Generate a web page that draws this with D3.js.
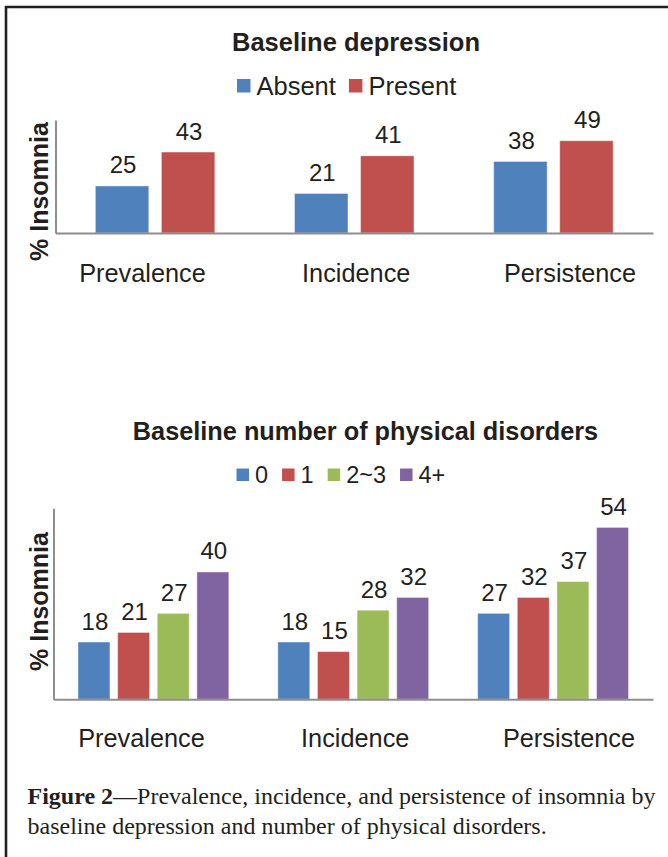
<!DOCTYPE html>
<html>
<head>
<meta charset="utf-8">
<script src="https://cdn.jsdelivr.net/npm/d3@7/dist/d3.min.js"></script>
<style>
  html, body { margin: 0; padding: 0; background: #fff; }
  svg { display: block; }
  .sans { font-family: Arial, "Liberation Sans", Helvetica, sans-serif; }
</style>
</head>
<body>
<svg id="fig" width="668" height="857"></svg>
<script>
// Outcome categories shared by both panels
const categories = ["Prevalence", "Incidence", "Persistence"];

// Panel A: baseline depression
const depressionGroups = ["Absent", "Present"];
const depressionAbsent = [25, 21, 38];
const depressionPresent = [43, 41, 49];

// Panel B: baseline number of physical disorders
const disorderGroups = ["0", "1", "2~3", "4+"];
const disorders0 = [18, 18, 27];
const disorders1 = [21, 15, 32];
const disorders23 = [27, 28, 37];
const disorders4plus = [40, 32, 54];

const yDomain = [0, 60];

const palette = ["#4F81BD", "#C0504D", "#9BBB59", "#8064A2"];
const ink = "#231f20";
const axisGrey = "#8e8e8e";

const svg = d3.select("#fig");

// Frame lines along the top and left edges
svg.append("line").attr("x1", 5).attr("x2", 668).attr("y1", 7).attr("y2", 7)
  .attr("stroke", ink).attr("stroke-width", 2.6);
svg.append("line").attr("x1", 6).attr("x2", 6).attr("y1", 6).attr("y2", 857)
  .attr("stroke", ink).attr("stroke-width", 2.6);

function drawPanel(cfg) {
  const g = svg.append("g").attr("class", "sans");
  const rows = cfg.groups.map((grp, i) => ({ grp, values: cfg.series[i] }));
  const data = categories.map((c, ci) => ({
    cat: c,
    bars: rows.map((r, si) => ({ grp: r.grp, si, v: r.values[ci] }))
  }));

  const x0 = d3.scaleBand().domain(categories).range([cfg.left, cfg.right])
    .paddingInner(cfg.padInner).paddingOuter(cfg.padOuter);
  const x1 = d3.scaleBand().domain(cfg.groups).range([0, x0.bandwidth()])
    .paddingInner(cfg.barGap).paddingOuter(0);
  const y = d3.scaleLinear().domain(yDomain).range([cfg.bottom, cfg.top]);
  const xLabel = d3.scalePoint().domain(categories).range(cfg.labelRange);

  // Title
  g.append("text").attr("x", cfg.titleX).attr("y", cfg.titleY)
    .attr("text-anchor", "middle").attr("font-weight", "bold")
    .attr("font-size", cfg.titleSize).attr("fill", ink).text(cfg.title);

  // Legend laid out left to right
  let lx = cfg.legendX;
  cfg.groups.forEach((grp, i) => {
    g.append("rect").attr("x", lx).attr("y", cfg.legendY - cfg.swatch)
      .attr("width", cfg.swatch).attr("height", cfg.swatch).attr("fill", palette[i]);
    lx += cfg.swatch + 6;
    const t = g.append("text").attr("x", lx).attr("y", cfg.legendTextY)
      .attr("font-size", cfg.legendSize).attr("fill", ink).text(grp);
    lx += t.node().getComputedTextLength() + cfg.legendGap;
  });

  // Bars
  const groupsSel = g.selectAll("g.cat").data(data).join("g")
    .attr("class", "cat")
    .attr("transform", d => `translate(${x0(d.cat)},0)`);

  groupsSel.selectAll("rect").data(d => d.bars).join("rect")
    .attr("x", d => x1(d.grp))
    .attr("y", d => y(d.v))
    .attr("width", x1.bandwidth())
    .attr("height", d => y(0) - y(d.v))
    .attr("fill", d => palette[d.si])
    .attr("stroke", "rgba(255,255,255,0.45)")
    .attr("stroke-width", 1);

  groupsSel.selectAll("text").data(d => d.bars).join("text")
    .attr("x", d => x1(d.grp) + x1.bandwidth() / 2 + 1)
    .attr("y", d => y(d.v) - 12.5)
    .attr("text-anchor", "middle")
    .attr("font-size", cfg.valueSize).attr("fill", ink)
    .text(d => d.v);

  // Axes: vertical line and baseline, no ticks
  const yAxis = g.append("g").attr("transform", `translate(${cfg.left},0)`)
    .call(d3.axisLeft(y).tickValues([]).tickSizeOuter(0));
  yAxis.select(".domain").attr("stroke", axisGrey).attr("stroke-width", 2);
  const xAxis = g.append("g").attr("transform", `translate(0,${cfg.bottom})`)
    .call(d3.axisBottom(x0).tickValues([]).tickSizeOuter(0));
  xAxis.select(".domain").attr("stroke", axisGrey).attr("stroke-width", 2);

  // Category labels
  g.selectAll("text.catlabel").data(categories).join("text")
    .attr("class", "catlabel")
    .attr("x", d => xLabel(d)).attr("y", cfg.catLabelY)
    .attr("text-anchor", "middle").attr("font-size", cfg.catSize)
    .attr("fill", ink).text(d => d);

  // Y axis title
  g.append("text")
    .attr("transform", `translate(${cfg.yTitleX},${(cfg.yTitleCenter)}) rotate(-90)`)
    .attr("text-anchor", "middle").attr("font-weight", "bold")
    .attr("font-size", cfg.yTitleSize).attr("fill", ink).text("% Insomnia");
}

drawPanel({
  title: "Baseline depression",
  titleX: 356, titleY: 50.5, titleSize: 25.5,
  groups: depressionGroups,
  series: [depressionAbsent, depressionPresent],
  legendX: 237, legendY: 92.5, legendTextY: 95, swatch: 13.5, legendSize: 25.5, legendGap: 13,
  left: 55.5, right: 653, top: 120, bottom: 233,
  padInner: 0.4, padOuter: 0.2, barGap: 0.19,
  labelRange: [142.5, 570], catLabelY: 281.5, catSize: 25.3,
  valueSize: 24,
  yTitleX: 47.5, yTitleCenter: 191.5, yTitleSize: 25
});

drawPanel({
  title: "Baseline number of physical disorders",
  titleX: 365.5, titleY: 439.5, titleSize: 25.3,
  groups: disorderGroups,
  series: [disorders0, disorders1, disorders23, disorders4plus],
  legendX: 236.5, legendY: 481, legendTextY: 483.3, swatch: 12.5, legendSize: 23.5, legendGap: 14,
  left: 53.5, right: 653, top: 508.3, bottom: 699.3,
  padInner: 0.245, padOuter: 0.1225, barGap: 0.193,
  labelRange: [141.5, 569], catLabelY: 746.7, catSize: 25.3,
  valueSize: 24,
  yTitleX: 47.5, yTitleCenter: 601.5, yTitleSize: 25
});

// Figure caption
const cap = svg.append("g")
  .attr("font-family", "'Liberation Serif', 'Times New Roman', Times, serif")
  .attr("font-size", 24).attr("fill", ink);
const line1 = cap.append("text").attr("x", 27.5).attr("y", 804);
line1.append("tspan").attr("font-weight", "bold").text("Figure 2");
line1.append("tspan").text("\u2014Prevalence, incidence, and persistence of insomnia by");
cap.append("text").attr("x", 27.5).attr("y", 833.5)
  .text("baseline depression and number of physical disorders.");

// Fit the first caption line to its column width
const capWidth = 653 - 27.5;
const w1 = line1.node().getComputedTextLength();
if (Math.abs(w1 - capWidth) > 4) {
  line1.attr("textLength", capWidth).attr("lengthAdjust", "spacing");
}
</script>
</body>
</html>
